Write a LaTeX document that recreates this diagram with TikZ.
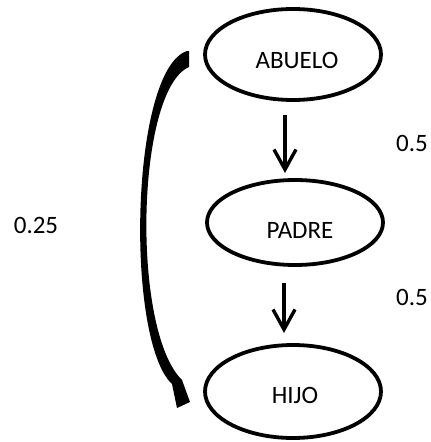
\documentclass[tikz,border=0pt]{standalone}
\usepackage{fontspec}
\setmainfont{Carlito}
\usetikzlibrary{shapes.geometric,arrows.meta}
\begin{document}
\begin{tikzpicture}[x=1pt,y=-1pt,
  ell/.style={ellipse,draw,line width=3.8pt,minimum width=176pt,inner sep=0pt},
  lbl/.style={font=\fontsize{25}{29}\selectfont,inner sep=0pt},
  arr/.style={line width=3.4pt,-{Straight Barb[length=20pt,width=22pt,line width=3.4pt]}}]
\useasboundingbox (0,0) rectangle (431,442);
% ellipses
\node[ell,minimum height=91pt] (abuelo) at (293,54.5) {};
\node[ell,minimum height=85pt] (padre) at (295,222.5) {};
\node[ell,minimum height=93pt] (hijo) at (293,391.5) {};
% texts
\node[lbl] (abuelot) at (297,60) {ABUELO};
\node[lbl] (padret) at (300,230) {PADRE};
\node[lbl] (hijot) at (295,395) {HIJO};
\node[lbl] (p1) at (412,143) {0.5};
\node[lbl] (p2) at (412,297) {0.5};
\node[lbl] (p3) at (36,225) {0.25};
% arrows
\coordinate (a1s) at (285,115);
\coordinate (a1e) at (285,173);
\coordinate (a2s) at (284,283);
\coordinate (a2e) at (284,333);
\draw[arr] (a1s) -- (a1e);
\draw[arr] (a2s) -- (a2e);
% thick curved connector
\fill (189,51) -- (189,67) .. controls (136,90) and (131,330) .. (182,380)
  -- (190,402) -- (177,408) -- (172,384)
  .. controls (125,340) and (130,70) .. (187,51) -- cycle;
\end{tikzpicture}
\end{document}
